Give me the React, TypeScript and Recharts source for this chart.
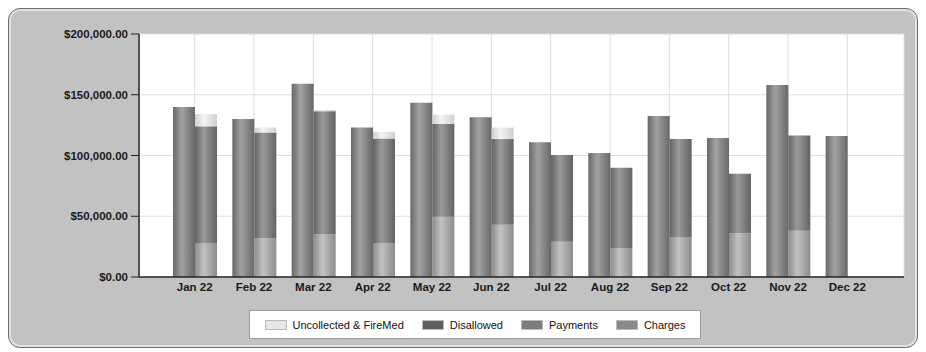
import { BarChart, Bar, XAxis, YAxis, CartesianGrid } from 'recharts';

const months = ['Jan 22', 'Feb 22', 'Mar 22', 'Apr 22', 'May 22', 'Jun 22', 'Jul 22', 'Aug 22', 'Sep 22', 'Oct 22', 'Nov 22', 'Dec 22'];
const charges = [140000, 130000, 159000, 123000, 143500, 131500, 111000, 102000, 132500, 114500, 158000, 116000];
const payments = [28000, 32000, 35000, 28000, 49500, 43000, 29000, 23500, 33000, 36000, 38000, 0];
const disallowed = [96000, 87000, 101500, 86000, 76500, 70500, 71500, 66500, 80500, 49000, 78500, 0];
const uncollected = [10000, 4000, 1000, 5500, 7500, 9500, 0, 0, 0, 0, 0, 0];
const yTicks = [0, 50000, 100000, 150000, 200000];

const data = months.map((month, i) => ({
    month,
    charges: charges[i],
    payments: payments[i],
    disallowed: disallowed[i],
    uncollected: uncollected[i],
}));

// legend order as shown in the box under the chart
const legendItems = [
    { name: 'Uncollected & FireMed', color: '#e6e6e6' },
    { name: 'Disallowed', color: '#5e5e5e' },
    { name: 'Payments', color: '#7d7d7d' },
    { name: 'Charges', color: '#8a8a8a' },
];

const money = (v: number) =>
    '$' + v.toLocaleString('en-US', { minimumFractionDigits: 2, maximumFractionDigits: 2 });

const tickFont = { fontFamily: 'Liberation Sans, Arial, sans-serif', fontSize: 11.5, fontWeight: 700, fill: '#1a1a1a' };

// cylinder-like shading for the bars
function Shade({ id, edge, mid }: { id: string; edge: string; mid: string }) {
    return (
        <linearGradient id={id} x1='0' y1='0' x2='1' y2='0'>
            <stop offset='0%' stopColor={edge} />
            <stop offset='40%' stopColor={mid} />
            <stop offset='100%' stopColor={edge} />
        </linearGradient>
    );
}

export default function App() {
    return (
        <div
            style={{
                position: 'relative',
                width: 908,
                height: 338,
                background: '#c2c2c2',
                border: '1px solid #6f6f6f',
                borderRadius: 12,
                boxShadow: 'inset 0 0 0 2px #e2e2e2',
            }}
        >
            <BarChart
                width={908}
                height={338}
                data={data}
                barSize={22}
                barGap={0}
                margin={{ top: 25, right: 13, bottom: 46, left: 0 }}
            >
                <defs>
                    <Shade id='gCharges' edge='#686868' mid='#a2a2a2' />
                    <Shade id='gDisallowed' edge='#636363' mid='#9a9a9a' />
                    <Shade id='gPayments' edge='#8c8c8c' mid='#c2c2c2' />
                    <Shade id='gUncollected' edge='#cfcfcf' mid='#f4f4f4' />
                </defs>
                <CartesianGrid stroke='#dedede' fill='#ffffff' />
                <XAxis
                    dataKey='month'
                    height={24}
                    padding={{ left: 26, right: 27 }}
                    axisLine={{ stroke: '#222', strokeWidth: 1.5 }}
                    tickLine={false}
                    tickMargin={0}
                    tick={tickFont}
                    interval={0}
                />
                <YAxis
                    width={130}
                    domain={[0, 200000]}
                    ticks={yTicks}
                    tickFormatter={money}
                    axisLine={{ stroke: '#222', strokeWidth: 1.5 }}
                    tickLine={{ stroke: '#222' }}
                    tickSize={8}
                    tickMargin={3}
                    tick={tickFont}
                />
                <YAxis
                    yAxisId='frame'
                    orientation='right'
                    width={0}
                    tick={false}
                    tickLine={false}
                    axisLine={{ stroke: '#9a9a9a' }}
                />
                {/* charges gets its own stack so it sits left of the breakdown column */}
                <Bar dataKey='charges' name='Charges' stackId='c' fill='url(#gCharges)' isAnimationActive={false} />
                <Bar dataKey='payments' name='Payments' stackId='s' fill='url(#gPayments)' isAnimationActive={false} />
                <Bar dataKey='disallowed' name='Disallowed' stackId='s' fill='url(#gDisallowed)' isAnimationActive={false} />
                <Bar dataKey='uncollected' name='Uncollected & FireMed' stackId='s' fill='url(#gUncollected)' isAnimationActive={false} />
            </BarChart>
            <div
                style={{
                    position: 'absolute',
                    left: 240,
                    top: 301,
                    width: 450,
                    height: 27,
                    background: '#fff',
                    border: '1px solid #9a9a9a',
                    display: 'flex',
                    alignItems: 'center',
                    justifyContent: 'center',
                    gap: 18,
                    fontFamily: 'Liberation Sans, Arial, sans-serif',
                    fontSize: 11,
                    color: '#111',
                }}
            >
                {legendItems.map((item) => (
                    <span key={item.name} style={{ display: 'flex', alignItems: 'center', gap: 6 }}>
                        <span style={{ width: 20, height: 8, background: item.color, border: '1px solid #bbb' }} />
                        {item.name}
                    </span>
                ))}
            </div>
        </div>
    );
}
